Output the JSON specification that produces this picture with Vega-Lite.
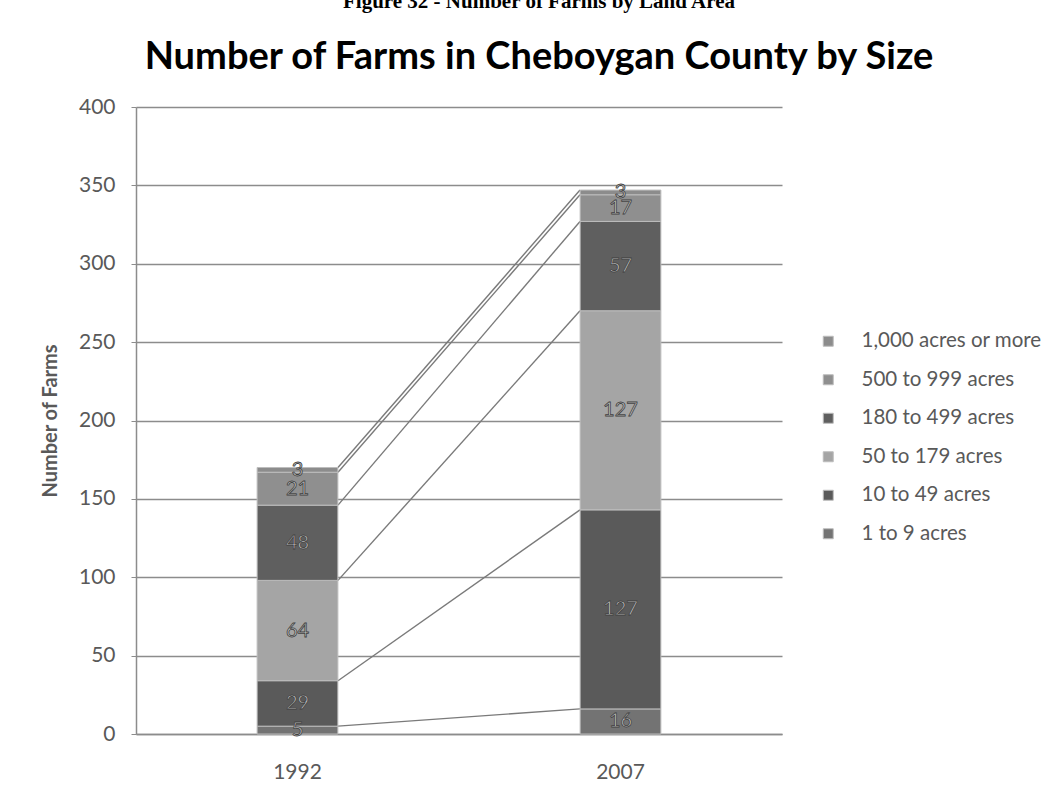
{
  "$schema": "https://vega.github.io/schema/vega-lite/v6.json",
  "width": 646,
  "height": 627,
  "autosize": {"type": "none"},
  "padding": {"left": 136, "top": 107, "right": 273, "bottom": 72},
  "background": "white",
  "config": {"view": {"stroke": null}},
  "title": {
    "text": "Figure 32 - Number of Farms by Land Area",
    "subtitle": "Number of Farms in Cheboygan County by Size",
    "anchor": "middle",
    "frame": "group",
    "dx": 80,
    "offset": 19,
    "font": "Liberation Serif",
    "fontSize": 21,
    "fontWeight": "bold",
    "color": "black",
    "subtitleFont": "Lato",
    "subtitleFontSize": 38,
    "subtitleFontWeight": "bold",
    "subtitleColor": "black",
    "subtitlePadding": 27
  },
  "data": {
    "values": [
      {"year": "1992", "size": "1 to 9 acres", "farms": 5},
      {"year": "1992", "size": "10 to 49 acres", "farms": 29},
      {"year": "1992", "size": "50 to 179 acres", "farms": 64},
      {"year": "1992", "size": "180 to 499 acres", "farms": 48},
      {"year": "1992", "size": "500 to 999 acres", "farms": 21},
      {"year": "1992", "size": "1,000 acres or more", "farms": 3},
      {"year": "2007", "size": "1 to 9 acres", "farms": 16},
      {"year": "2007", "size": "10 to 49 acres", "farms": 127},
      {"year": "2007", "size": "50 to 179 acres", "farms": 127},
      {"year": "2007", "size": "180 to 499 acres", "farms": 57},
      {"year": "2007", "size": "500 to 999 acres", "farms": 17},
      {"year": "2007", "size": "1,000 acres or more", "farms": 3}
    ]
  },
  "transform": [
    {"calculate": "indexof(['1 to 9 acres', '10 to 49 acres', '50 to 179 acres', '180 to 499 acres', '500 to 999 acres', '1,000 acres or more'], datum.size)", "as": "rank"},
    {"stack": "farms", "groupby": ["year"], "sort": [{"field": "rank", "order": "ascending"}], "as": ["lo", "hi"]},
    {"calculate": "(datum.lo + datum.hi) / 2", "as": "mid"},
    {"calculate": "datum.year === '1992' ? 1 : -1", "as": "side"}
  ],
  "encoding": {
    "x": {
      "field": "year",
      "type": "nominal",
      "scale": {"paddingInner": 0, "paddingOuter": 0},
      "axis": {
        "title": null,
        "labelAngle": 0,
        "labelFont": "Lato",
        "labelFontSize": 21,
        "labelColor": "#595959",
        "labelPadding": 27,
        "ticks": false,
        "domainColor": "#8c8c8c",
        "domainWidth": 1.5
      }
    }
  },
  "layer": [
    {
      "mark": {"type": "line", "color": "#7a7a7a", "strokeWidth": 1.4},
      "encoding": {
        "xOffset": {
          "field": "side",
          "type": "quantitative",
          "scale": {"domain": [-1, 1], "range": [121, 202]},
          "legend": null
        },
        "y": {"field": "hi", "type": "quantitative", "scale": {"domain": [0, 400]}},
        "detail": {"field": "size", "type": "nominal"}
      }
    },
    {
      "mark": {"type": "bar", "width": {"band": 0.25}, "stroke": "#bdbdbd", "strokeWidth": 1},
      "encoding": {
        "y": {
          "field": "lo",
          "type": "quantitative",
          "scale": {"domain": [0, 400]},
          "axis": {
            "title": "Number of Farms",
            "titleFont": "Lato",
            "titleFontSize": 20,
            "titleFontWeight": "bold",
            "titleColor": "#595959",
            "titlePadding": 18,
            "values": [0, 50, 100, 150, 200, 250, 300, 350, 400],
            "labelFont": "Lato",
            "labelFontSize": 21,
            "labelColor": "#595959",
            "labelPadding": 16,
            "tickSize": 5,
            "tickColor": "#8c8c8c",
            "domainColor": "#8c8c8c",
            "domainWidth": 1.5,
            "gridColor": "#8c8c8c",
            "gridWidth": 1.5
          }
        },
        "y2": {"field": "hi"},
        "color": {
          "field": "size",
          "type": "nominal",
          "sort": ["1,000 acres or more", "500 to 999 acres", "180 to 499 acres", "50 to 179 acres", "10 to 49 acres", "1 to 9 acres"],
          "scale": {
            "domain": ["1,000 acres or more", "500 to 999 acres", "180 to 499 acres", "50 to 179 acres", "10 to 49 acres", "1 to 9 acres"],
            "range": ["#8c8c8c", "#8f8f8f", "#5f5f5f", "#a5a5a5", "#5a5a5a", "#737373"]
          },
          "legend": {
            "title": null,
            "orient": "none",
            "legendX": 682,
            "legendY": 224,
            "symbolType": "square",
            "symbolSize": 100,
            "symbolStrokeColor": "#bdbdbd",
            "symbolStrokeWidth": 1,
            "labelFont": "Lato",
            "labelFontSize": 20.5,
            "labelColor": "#595959",
            "labelOffset": 23,
            "labelLimit": 300,
            "rowPadding": 17.5
          }
        }
      }
    },
    {
      "mark": {"type": "text", "font": "Lato", "fontSize": 20, "fill": "#c8c8c8", "stroke": "#404040", "strokeWidth": 0.8},
      "encoding": {
        "y": {"field": "mid", "type": "quantitative"},
        "text": {"field": "farms", "type": "quantitative"}
      }
    }
  ],
  "resolve": {"scale": {"xOffset": "independent"}}
}
